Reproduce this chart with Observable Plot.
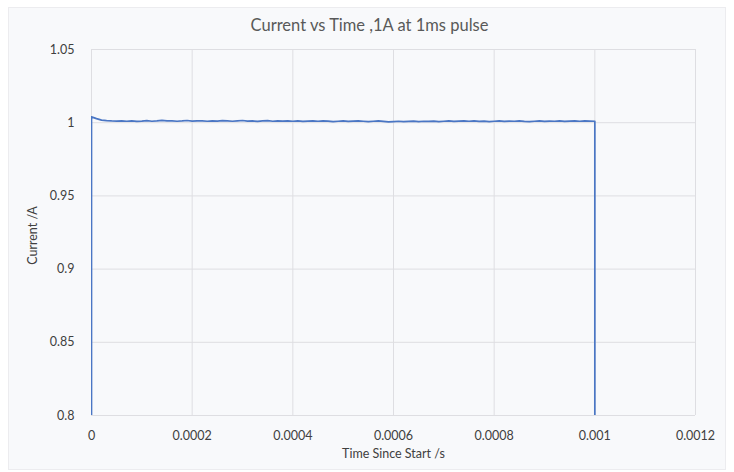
<!DOCTYPE html>
<html>
<head>
<meta charset="utf-8">
<script src="https://cdn.jsdelivr.net/npm/d3@7"></script>
<script src="https://cdn.jsdelivr.net/npm/@observablehq/plot@0.6"></script>
<style>
  html, body { margin: 0; padding: 0; background: #ffffff; }
  #wrap { position: relative; width: 734px; height: 472px; overflow: hidden; }
  #frame { position: absolute; left: 8px; top: 7px; width: 716px; height: 461px;
           background: #f8f9fb; border: 1px solid #ececef; }
  #chart { position: absolute; left: 0; top: 0; }
</style>
</head>
<body>
<div id="wrap"><div id="frame"></div><div id="chart"></div></div>
<script>
const title = "Current vs Time ,1A at 1ms pulse";
const xLabel = "Time Since Start /s";
const yLabel = "Current /A";

const xTicks = [0, 0.0002, 0.0004, 0.0006, 0.0008, 0.001, 0.0012];
const xTickLabels = ["0", "0.0002", "0.0004", "0.0006", "0.0008", "0.001", "0.0012"];
const yTicks = [0.8, 0.85, 0.9, 0.95, 1, 1.05];
const yTickLabels = ["0.8", "0.85", "0.9", "0.95", "1", "1.05"];

// pulse edges
const pulseStart = 0;
const pulseEnd = 0.001;
const baseCurrent = 0.8; // bottom of visible range (edges go off-scale)

// sampled current during the pulse, one sample every 10 µs
const sampleInterval = 0.00001;
const current = [
  1.0040, 1.0028, 1.0018, 1.0014, 1.0012, 1.0011, 1.0013, 1.0010, 1.0012, 1.0009,
  1.0011, 1.0014, 1.0010, 1.0012, 1.0016, 1.0012, 1.0013, 1.0010, 1.0012, 1.0015,
  1.0011, 1.0013, 1.0012, 1.0010, 1.0013, 1.0011, 1.0014, 1.0012, 1.0010, 1.0013,
  1.0015, 1.0011, 1.0012, 1.0009, 1.0012, 1.0014, 1.0010, 1.0012, 1.0011, 1.0013,
  1.0010, 1.0012, 1.0009, 1.0011, 1.0013, 1.0010, 1.0012, 1.0011, 1.0008, 1.0010,
  1.0012, 1.0009, 1.0011, 1.0013, 1.0010, 1.0007, 1.0010, 1.0012, 1.0009, 1.0006,
  1.0008, 1.0010, 1.0007, 1.0009, 1.0011, 1.0008, 1.0010, 1.0009, 1.0011, 1.0008,
  1.0010, 1.0012, 1.0009, 1.0011, 1.0013, 1.0010, 1.0012, 1.0009, 1.0011, 1.0008,
  1.0010, 1.0012, 1.0009, 1.0011, 1.0010, 1.0012, 1.0009, 1.0008, 1.0010, 1.0012,
  1.0009, 1.0011, 1.0010, 1.0012, 1.0009, 1.0011, 1.0013, 1.0010, 1.0012, 1.0011,
  1.0010
];

const data = [{t: pulseStart, i: baseCurrent}]
  .concat(current.map((v, k) => ({t: k * sampleInterval, i: v})))
  .concat([{t: pulseEnd, i: baseCurrent}]);

const font = "Lato, 'Open Sans', sans-serif";

const chart = Plot.plot({
  width: 734,
  height: 472,
  marginLeft: 91,
  marginRight: 39,
  marginTop: 49,
  marginBottom: 57,
  style: {background: "transparent", fontFamily: font, fontSize: "12px", color: "#404040"},
  x: {domain: [0, 0.0012], ticks: xTicks, tickFormat: (d, i) => xTickLabels[xTicks.indexOf(d)]},
  y: {domain: [0.8, 1.05], ticks: yTicks, tickFormat: (d) => yTickLabels[yTicks.indexOf(d)]},
  marks: [
    Plot.gridX(xTicks, {stroke: "#dedee2", strokeOpacity: 1, strokeWidth: 1}),
    Plot.gridY(yTicks, {stroke: "#dedee2", strokeOpacity: 1, strokeWidth: 1}),
    Plot.axisX({ticks: xTicks, tickSize: 0, tickPadding: 16, fontSize: 12.5, fill: "#404040",
                tickFormat: (d) => xTickLabels[xTicks.indexOf(d)], label: null}),
    Plot.axisY({ticks: yTicks, tickSize: 0, tickPadding: 17, fontSize: 12.5, fill: "#404040",
                tickFormat: (d) => yTickLabels[yTicks.indexOf(d)], label: null}),
    Plot.line(data, {x: "t", y: "i", stroke: "#4a76c4", strokeWidth: 1.7, clip: true}),
    Plot.text([title], {frameAnchor: "top", lineAnchor: "middle", dx: -24, dy: -24, text: d => d, fontSize: 16.5, fill: "#595959"}),
    Plot.text([xLabel], {frameAnchor: "bottom", lineAnchor: "middle", dy: 38, text: d => d, fontSize: 12.5, fill: "#404040"}),
    Plot.text([yLabel], {frameAnchor: "left", textAnchor: "middle", lineAnchor: "middle", dx: -59, dy: 3, rotate: -90, text: d => d, fontSize: 12.5, fill: "#404040"})
  ]
});
document.getElementById("chart").appendChild(chart);
</script>
</body>
</html>
